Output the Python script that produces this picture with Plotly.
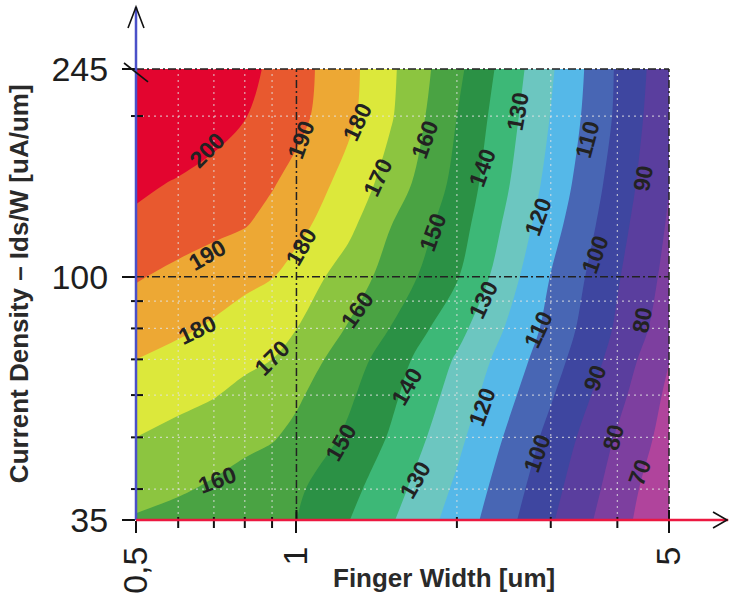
import numpy as np
import plotly.graph_objects as go

# ---- data -----------------------------------------------------------------
finger_width = [0.5, 0.6, 0.7, 0.8, 0.9, 1.0, 1.25, 1.5, 2.0, 3.0, 4.0, 5.0]      # um
current_density = [35, 40, 50, 60, 70, 80, 100, 125, 150, 200, 245]           # uA/um

# surface values, one row per current density (bottom to top)
z_values = [
    [159.1, 156.8, 154.7, 153.0, 151.5, 150.1, 140.4, 131.1, 116.0, 91.1, 73.7, 61.4],
    [163.2, 161.1, 158.7, 156.0, 153.7, 151.5, 143.2, 134.0, 118.3, 93.2, 75.7, 62.1],
    [170.0, 167.2, 164.7, 162.6, 160.8, 157.5, 148.3, 139.1, 122.5, 97.0, 79.0, 66.0],
    [175.3, 172.7, 170.5, 167.5, 164.4, 161.6, 151.8, 142.2, 126.0, 101.0, 82.9, 67.9],
    [180.0, 177.0, 174.3, 172.0, 170.0, 165.6, 155.2, 145.1, 128.9, 104.3, 86.2, 70.3],
    [184.5, 181.6, 178.7, 175.4, 172.7, 170.1, 159.3, 149.8, 133.2, 106.9, 88.6, 74.3],
    [190.8, 187.6, 184.8, 182.5, 180.4, 176.0, 165.3, 156.3, 140.8, 109.7, 90.9, 77.0],
    [197.4, 194.7, 192.5, 190.5, 187.0, 183.0, 172.6, 160.3, 144.6, 113.8, 93.4, 78.9],
    [202.7, 199.0, 195.9, 193.2, 190.8, 187.0, 176.6, 166.1, 147.2, 116.8, 95.5, 80.3],
    [216.0, 210.1, 204.9, 200.4, 196.5, 192.9, 182.3, 171.1, 150.0, 119.7, 98.3, 81.8],
    [222.5, 215.0, 208.6, 203.0, 198.2, 193.8, 183.2, 171.9, 152.5, 121.3, 98.8, 83.3],
]

level_start, level_end, level_step = 70, 200, 10

# one colour per band, lowest band (<70) first, highest (>200) last
band_colors = [
    "#b0449c", "#7d3f9f", "#5a3e9e", "#3e46a0", "#4866b4",
    "#55b8e8", "#6cc6c0", "#3db877", "#2b9145", "#4aa343",
    "#8cc540", "#dce83b", "#eda834", "#e8592f", "#e3052f",
]

# contour labels: value, finger width, current density, text angle
label_value = [200, 190, 190, 180, 180, 180, 170, 170, 160, 160, 160, 150, 150, 140, 140,
               130, 130, 130, 120, 120, 110, 110, 100, 100, 90, 90, 80, 80, 70]
label_x = [0.68, 1.02, 0.68, 1.30, 1.02, 0.65, 1.42, 0.90, 1.74, 1.30, 0.71, 1.80, 1.21, 2.23, 1.61,
           2.60, 2.24, 1.67, 2.84, 2.23, 3.51, 2.84, 3.63, 2.83, 4.47, 3.63, 4.45, 3.93, 4.41]
label_y = [172.7, 180.4, 109.9, 195.0, 113.7, 79.5, 153.1, 70.4, 180.4, 86.6, 41.6, 120.8, 48.8, 159.9, 62.1,
           203.5, 90.5, 41.6, 129.4, 57.0, 180.4, 79.5, 109.9, 46.7, 153.1, 64.6, 83.0, 50.1, 43.0]
label_angle = [-45, -70, -30, -65, -60, -25, -65, -45, -70, -55, -20, -70, -60, -70, -60,
               -80, -65, -60, -70, -70, -75, -65, -70, -70, -80, -70, -80, -75, -70]

x_major = [0.5, 1, 5]
x_major_text = ["0,5", "1", "5"]
x_minor = [0.6, 0.7, 0.8, 0.9, 2, 3, 4]
y_major = [35, 100, 245]
y_minor = [40, 50, 60, 70, 80, 90, 200]

x_title = "Finger Width [um]"
y_title = "Current Density – Ids/W [uA/um]"

# ---- helpers --------------------------------------------------------------
x_lo, x_hi = np.log10(finger_width[0]), np.log10(finger_width[-1])
y_lo, y_hi = np.log10(current_density[0]), np.log10(current_density[-1])


def xfrac(v):
    return (np.log10(v) - x_lo) / (x_hi - x_lo)


def yfrac(v):
    return (np.log10(v) - y_lo) / (y_hi - y_lo)


n_bands = len(band_colors)
colorscale = [[k / (n_bands - 1), c] for k, c in enumerate(band_colors)]

fig = go.Figure()
fig.add_trace(go.Contour(
    x=finger_width, y=current_density, z=z_values,
    autocontour=False,
    contours=dict(start=level_start, end=level_end, size=level_step,
                  coloring="fill", showlabels=False),
    colorscale=colorscale, showscale=False,
    line=dict(width=0), hoverinfo="skip",
))

shapes = []
DOM = dict(xref="x domain", yref="y domain")

# faint dotted minor grid
minor_grid = dict(color="rgba(225,225,225,0.75)", width=1.2, dash="2px,4px")
for v in x_minor:
    f = xfrac(v)
    shapes.append(dict(type="line", x0=f, x1=f, y0=0, y1=1, **DOM, line=minor_grid))
for v in y_minor:
    f = yfrac(v)
    shapes.append(dict(type="line", x0=0, x1=1, y0=f, y1=f, **DOM, line=minor_grid))

# dark dash-dot lines at the decade marks and the frame
dashdot = dict(color="#222222", width=1.5, dash="8px,3px,2px,3px")
for v in [1, 5]:
    f = xfrac(v)
    shapes.append(dict(type="line", x0=f, x1=f, y0=0, y1=1, **DOM, line=dashdot))
for v in [100, 245]:
    f = yfrac(v)
    shapes.append(dict(type="line", x0=0, x1=1, y0=f, y1=f, **DOM, line=dashdot))

# tick marks crossing the axes
tick = dict(color="#111111", width=2)
for v in x_minor:
    f = xfrac(v)
    shapes.append(dict(type="line", xref="x domain", yref="y domain", ysizemode="pixel",
                       yanchor=0, x0=f, x1=f, y0=-8, y1=3, line=tick))
for v in [1, 5]:
    f = xfrac(v)
    shapes.append(dict(type="line", xref="x domain", yref="y domain", ysizemode="pixel",
                       yanchor=0, x0=f, x1=f, y0=0, y1=10, line=tick))
for v in y_minor:
    f = yfrac(v)
    shapes.append(dict(type="line", xref="x domain", yref="y domain", xsizemode="pixel",
                       xanchor=0, x0=-5, x1=7, y0=f, y1=f, line=tick))

# coloured axis lines with open arrow heads
shapes.append(dict(type="line", **DOM, x0=0, x1=0, y0=0, y1=1.137,
                   line=dict(color="#4a50c8", width=2.5)))
shapes.append(dict(type="line", **DOM, x0=0, x1=1.111, y0=0, y1=0,
                   line=dict(color="#ec1840", width=2.5)))
shapes.append(dict(type="path", **DOM,
                   path="M -0.015 1.091 L 0 1.1375 L 0.015 1.091",
                   line=dict(color="#111111", width=1.6)))
shapes.append(dict(type="path", **DOM,
                   path="M 1.0826 0.0177 L 1.1088 0 L 1.0826 -0.0177",
                   line=dict(color="#111111", width=1.6)))
# slanted mark at the top of the y axis
shapes.append(dict(type="line", **DOM, x0=-0.0225, x1=0.0225, y0=1.0133, y1=0.9712,
                   line=dict(color="#111111", width=1.6)))

label_font = dict(family="Liberation Sans, Arial, sans-serif", size=23,
                  color="#222222", weight="bold")
annotations = []
for v, lx, ly, a in zip(label_value, label_x, label_y, label_angle):
    annotations.append(dict(x=np.log10(lx), y=np.log10(ly), xref="x", yref="y",
                            text=str(v), textangle=a, showarrow=False, font=label_font))

# axis titles
title_font = dict(family="Liberation Sans, Arial, sans-serif", size=26,
                  color="#2a2a2a", weight="bold")
annotations.append(dict(text=x_title, xref="paper", yref="paper", x=0.578, y=-0.128,
                        xanchor="center", yanchor="middle", showarrow=False,
                        font=title_font))
annotations.append(dict(text=y_title, xref="paper", yref="paper", x=-0.2195, y=0.523,
                        xanchor="center", yanchor="middle", textangle=-90,
                        showarrow=False, font=title_font))

fig.update_layout(
    width=730, height=597,
    margin=dict(l=136, r=61, t=69, b=77),
    paper_bgcolor="white", plot_bgcolor="white",
    showlegend=False,
    shapes=shapes,
    annotations=annotations,
    font=dict(family="Liberation Sans, Arial, sans-serif", color="#1e1e1e"),
)
fig.update_xaxes(
    type="log", range=[x_lo, x_hi], showgrid=False, zeroline=False, showline=False,
    tickmode="array", tickvals=x_major, ticktext=x_major_text, tickangle=-90,
    ticks="outside", ticklen=12, tickwidth=2, tickcolor="#111111",
    tickfont=dict(size=34, color="#1e1e1e"), layer="above traces", automargin=False,
)
fig.update_yaxes(
    type="log", range=[y_lo, y_hi], showgrid=False, zeroline=False, showline=False,
    tickmode="array", tickvals=y_major, ticktext=[str(v) for v in y_major],
    ticks="outside", ticklen=13, tickwidth=2, tickcolor="#111111", ticklabelstandoff=7,
    tickfont=dict(size=34, color="#1e1e1e"), layer="above traces", automargin=False,
)

fig.write_html("out.html")
